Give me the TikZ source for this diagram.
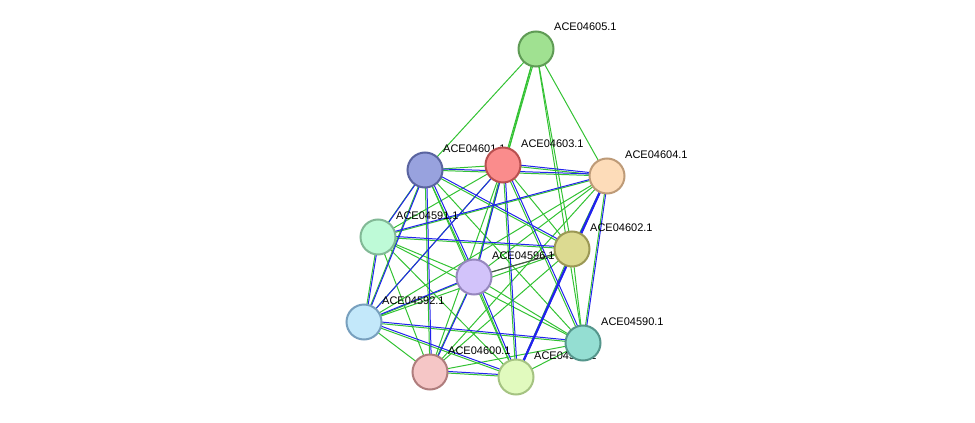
\documentclass[tikz,border=0pt]{standalone}
\usepackage{fontspec}
\setmainfont{Liberation Sans}
\definecolor{eg}{HTML}{33C233}
\definecolor{eb}{HTML}{2222EE}
\begin{document}
\begin{tikzpicture}[x=1pt,y=-1pt,
  prot/.style={circle,draw,line width=2pt,minimum size=35pt,inner sep=0pt},
  lab/.style={anchor=west,font=\fontsize{11}{12}\selectfont,inner sep=0pt},
  ge/.style={draw=eg,line width=1pt},
  be/.style={draw=eb,line width=1pt}]
\useasboundingbox (0,0) rectangle (975,423);
\coordinate (n05) at (536,49);
\coordinate (n03) at (503,165);
\coordinate (n01) at (425,170);
\coordinate (n04) at (607,176);
\coordinate (n91) at (378,237);
\coordinate (n02) at (572,249);
\coordinate (n96) at (474,277);
\coordinate (n92) at (364,322);
\coordinate (n90) at (583,343);
\coordinate (n00) at (430,372);
\coordinate (n89) at (516,377);
% green edges
\foreach \a/\b in {05/01,05/03,05/04,05/02,05/90,05/96,
 01/03,01/04,01/91,01/02,01/96,01/92,01/90,01/00,01/89,
 03/04,03/91,03/02,03/96,03/92,03/90,03/00,03/89,
 04/91,04/02,04/96,04/92,04/90,04/00,04/89,
 91/02,91/96,91/92,91/90,91/00,91/89,
 02/96,02/92,02/90,02/00,02/89,
 96/92,96/90,96/00,96/89,
 92/90,92/00,92/89,90/00,90/89,00/89}
  \path[ge] (n\a) -- (n\b);
\path[ge,transform canvas={xshift=1.5pt}] (n05) -- (n03);
% blue edges
\foreach \a/\b in {01/91,01/92,01/96,01/02,01/04,03/04,03/92,03/96,03/89,
 04/91,04/89,04/90,04/02,91/92,96/92,96/89,92/90,92/89,00/96,00/89,01/00,91/02,03/90}
  \path[be,transform canvas={xshift=1.5pt,yshift=1.5pt}] (n\a) -- (n\b);
\path[be,line width=2pt] (n04) -- (n89);
\path[draw=gray!60!black,line width=1pt] (n96) -- (n02);
% nodes and labels
\node[lab] (l05) at (554,27) {ACE04605.1};
\node[prot,fill={rgb,255:red,160;green,225;blue,145},draw={rgb,255:red,95;green,155;blue,85}] (p05) at (n05) {};
\node[lab] (l03) at (521,144) {ACE04603.1};
\node[lab] (l01) at (443,149) {ACE04601.1};
\node[prot,fill={rgb,255:red,250;green,140;blue,140},draw={rgb,255:red,185;green,80;blue,80}] (p03) at (n03) {};
\node[prot,fill={rgb,255:red,152;green,162;blue,222},draw={rgb,255:red,90;green,100;blue,160}] (p01) at (n01) {};
\node[lab] (l04) at (625,155) {ACE04604.1};
\node[prot,fill={rgb,255:red,253;green,220;blue,185},draw={rgb,255:red,190;green,155;blue,120}] (p04) at (n04) {};
\node[lab] (l91) at (396,216) {ACE04591.1};
\node[prot,fill={rgb,255:red,190;green,250;blue,215},draw={rgb,255:red,130;green,185;blue,150}] (p91) at (n91) {};
\node[lab] (l02) at (590,228) {ACE04602.1};
\node[prot,fill={rgb,255:red,220;green,218;blue,145},draw={rgb,255:red,155;green,152;blue,85}] (p02) at (n02) {};
\node[lab] (l96) at (492,256) {ACE04596.1};
\node[prot,fill={rgb,255:red,210;green,195;blue,250},draw={rgb,255:red,150;green,135;blue,190}] (p96) at (n96) {};
\node[lab] (l92) at (382,301) {ACE04592.1};
\node[prot,fill={rgb,255:red,195;green,232;blue,250},draw={rgb,255:red,120;green,160;blue,190}] (p92) at (n92) {};
\node[lab] (l89) at (534,356) {ACE04599.1};
\node[lab] (l90) at (601,322) {ACE04590.1};
\node[prot,fill={rgb,255:red,148;green,222;blue,210},draw={rgb,255:red,85;green,150;blue,140}] (p90) at (n90) {};
\node[lab] (l00) at (448,351) {ACE04600.1};
\node[prot,fill={rgb,255:red,245;green,198;blue,198},draw={rgb,255:red,175;green,125;blue,125}] (p00) at (n00) {};
\node[prot,fill={rgb,255:red,225;green,250;blue,190},draw={rgb,255:red,165;green,195;blue,130}] (p89) at (n89) {};
\end{tikzpicture}
\end{document}
